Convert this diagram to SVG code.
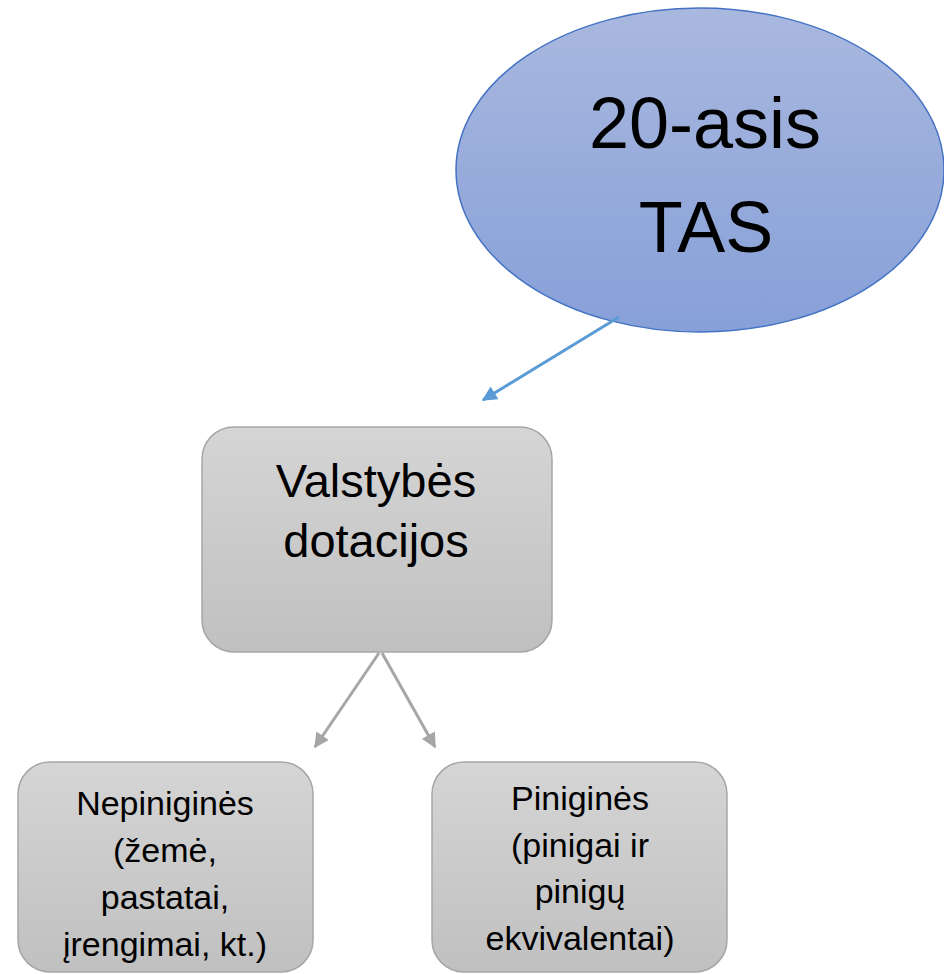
<svg xmlns="http://www.w3.org/2000/svg" width="944" height="974" viewBox="0 0 944 974">
<style>
text{font-family:"Liberation Sans",Arial,sans-serif;fill:#000;text-anchor:middle}
.box{fill:url(#gGray);stroke:#a6a6a6;stroke-width:1.5}
.big{font-size:72px}
.mid{font-size:47px}
.sm{font-size:34px}
</style>
<defs>
<linearGradient id="gBlue" x1="0" y1="0" x2="0" y2="1">
<stop offset="0" stop-color="#a9b8df"/>
<stop offset="1" stop-color="#87a0d8"/>
</linearGradient>
<linearGradient id="gGray" x1="0" y1="0" x2="0" y2="1">
<stop offset="0" stop-color="#d5d5d5"/>
<stop offset="1" stop-color="#c0c0c0"/>
</linearGradient>
<marker id="aBlue" viewBox="0 0 10 10" refX="9" refY="5" markerWidth="5.5" markerHeight="5" orient="auto" markerUnits="strokeWidth">
<path d="M0,0 L10,5 L0,10 z" fill="#5b9bd5"/>
</marker>
<marker id="aGray" viewBox="0 0 10 10" refX="9" refY="5" markerWidth="5.5" markerHeight="5" orient="auto" markerUnits="strokeWidth">
<path d="M0,0 L10,5 L0,10 z" fill="#a6a6a6"/>
</marker>
</defs>
<g id="n-tas">
<ellipse cx="700" cy="170" rx="244" ry="162" fill="url(#gBlue)" stroke="#4472c4" stroke-width="1.5"/>
<text class="big" x="705" y="148">20-asis</text>
<text class="big" x="706" y="252">TAS</text>
</g>
<g id="n-valstybes">
<rect class="box" x="202" y="427" width="350" height="225" rx="32"/>
<text class="mid" x="376" y="497">Valstybės</text>
<text class="mid" x="376" y="557">dotacijos</text>
</g>
<g id="n-nepinigines">
<rect class="box" x="18" y="762" width="295" height="210" rx="32"/>
<text class="sm" x="165" y="815">Nepiniginės</text>
<text class="sm" x="165" y="862">(žemė,</text>
<text class="sm" x="165" y="909">pastatai,</text>
<text class="sm" x="165" y="956">įrengimai, kt.)</text>
</g>
<g id="n-pinigines">
<rect class="box" x="432" y="762" width="295" height="210" rx="32"/>
<text class="sm" x="580" y="810">Piniginės</text>
<text class="sm" x="580" y="857">(pinigai ir</text>
<text class="sm" x="580" y="903">pinigų</text>
<text class="sm" x="580" y="950">ekvivalentai)</text>
</g>
<g id="connectors">
<line x1="619" y1="317" x2="483" y2="400" stroke="#5b9bd5" stroke-width="3" marker-end="url(#aBlue)"/>
<line x1="379" y1="653" x2="315" y2="747" stroke="#a6a6a6" stroke-width="3" marker-end="url(#aGray)"/>
<line x1="382" y1="653" x2="435" y2="747" stroke="#a6a6a6" stroke-width="3" marker-end="url(#aGray)"/>
</g>
</svg>
